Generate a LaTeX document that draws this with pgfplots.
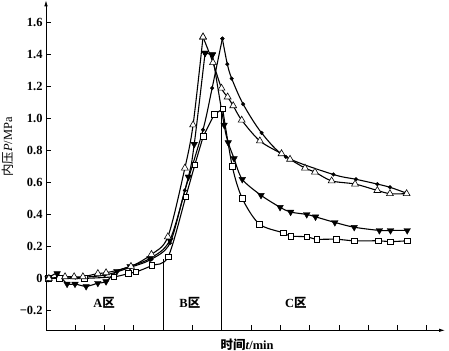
\documentclass[border=0pt]{standalone}
\usepackage{pgfplots}
\pgfplotsset{compat=1.18}
\usepackage{fontspec}
\setmainfont{Liberation Serif}
\newfontfamily\cjk{Noto Sans CJK SC}
\usetikzlibrary{arrows.meta}
\begin{document}
\begin{tikzpicture}[font=\fontsize{12}{14}\selectfont]
\begin{axis}[
 at={(0,0)}, anchor=south west,
 scale only axis, width=399bp, height=330bp,
 xmin=0, xmax=13.62, ymin=-0.325, ymax=1.74,
 axis lines=left,
 axis line style={line width=0.8pt, -{Latex[length=6pt,width=3.5pt]}},
 tick align=inside,
 xtick={1,2,3,4,5,6,7,8,9,10,11,12,13}, xticklabels={},
 ytick={-0.2,0,0.2,0.4,0.6,0.8,1.0,1.2,1.4,1.6},
 yticklabels={−0.2,0,0.2,0.4,0.6,0.8,1.0,1.2,1.4,1.6},
 yticklabel style={font=\bfseries\fontsize{12.5}{14}\selectfont},
 major tick length=5bp,
 tick style={black, line width=0.8pt},
 clip=false,
 every axis y label/.style={at={(axis description cs:-0.0965,0.556)}, rotate=90, anchor=center},
 every axis x label/.style={at={(axis description cs:0.504,-0.0445)}, anchor=center},
 ylabel={\fontsize{12.5}{14}\selectfont{\cjk 内压}\textit{P}/MPa},
 xlabel={\bfseries\fontsize{12.5}{14}\selectfont{\cjk\bfseries 时间}\textit{t}/min},
 every axis plot/.append style={black, line width=1.1pt},
]
% region separators
\addplot[black, line width=0.7pt, mark=none] coordinates {(4.0,-0.325) (4.0,0.12)};
\addplot[black, line width=0.7pt, mark=none] coordinates {(6.0,-0.325) (6.0,1.06)};

% squares
\addplot[smooth, mark=square*, mark size=2.8pt, mark options={fill=white, line width=0.6pt}] coordinates {
(0.07,0.0) (0.45,0.0) (1.3,0.0) (2.32,0.01) (2.81,0.03) (3.07,0.04) (3.61,0.08) (4.17,0.135) (4.77,0.51) (5.08,0.71) (5.37,0.89)};
\addplot[sharp plot, mark=square*, mark size=2.8pt, mark options={fill=white, line width=0.6pt}] coordinates {
(5.37,0.89) (5.74,1.025) (6.03,1.06)};
\addplot[smooth, mark=square*, mark size=2.8pt, mark options={fill=white, line width=0.6pt}] coordinates {
(6.03,1.06) (6.36,0.70) (6.70,0.50) (7.28,0.34) (8.10,0.285) (8.35,0.265) (8.90,0.26) (9.24,0.245) (9.90,0.245) (10.52,0.235) (11.34,0.235) (11.76,0.23) (12.33,0.235)};

% filled circles
\addplot[smooth, mark=*, mark size=1.9pt, mark options={line width=0.3pt}] coordinates {
(0.07,0.0) (1.0,0.005) (2.0,0.02) (2.9,0.07) (3.6,0.12) (4.23,0.22) (4.74,0.55) (5.36,0.93) (5.67,1.19) (6.02,1.50)};
\addplot[smooth, mark=*, mark size=1.9pt, mark options={line width=0.3pt}] coordinates {
(6.02,1.50) (6.19,1.34) (6.34,1.25) (6.73,1.09) (7.36,0.91) (8.19,0.76) (9.81,0.65) (10.58,0.62) (11.31,0.59) (11.74,0.57) (12.28,0.535)};

% filled down triangles
\addplot[smooth, mark=triangle*, mark size=3.8pt, mark options={rotate=180, fill=black, line width=0.4pt}] coordinates {
(0.07,0.0) (0.38,0.03) (0.72,-0.035) (0.99,-0.035) (1.37,-0.05) (1.77,-0.03) (2.05,-0.02) (2.42,0.045) (2.87,0.075) (3.55,0.125) (4.23,0.24) (4.86,0.635) (5.06,0.84) (5.43,1.41)};
\addplot[sharp plot, mark=triangle*, mark size=3.8pt, mark options={rotate=180, fill=black, line width=0.4pt}] coordinates {
(5.43,1.41) (5.68,1.40)};
\addplot[smooth, mark=triangle*, mark size=3.8pt, mark options={rotate=180, fill=black, line width=0.4pt}] coordinates {
(5.68,1.40) (6.08,0.96) (6.22,0.85) (6.42,0.75) (6.70,0.62) (7.34,0.52) (7.99,0.445) (8.35,0.415) (8.90,0.40) (9.20,0.385) (9.86,0.35) (10.52,0.32) (11.38,0.30) (11.76,0.30) (12.33,0.30)};

% open triangles
\addplot[smooth, mark=triangle*, mark size=4pt, mark options={fill=white, line width=0.6pt}] coordinates {
(0.1,0.0) (0.65,0.01) (0.96,0.01) (1.26,0.01) (1.77,0.03) (2.05,0.035) (2.9,0.075) (3.6,0.15) (4.16,0.26) (4.74,0.69) (5.02,0.96) (5.36,1.51)};
\addplot[smooth, mark=triangle*, mark size=4pt, mark options={fill=white, line width=0.6pt}] coordinates {
(5.36,1.51) (5.70,1.35) (5.99,1.19) (6.20,1.135) (6.39,1.08) (6.68,0.99) (7.30,0.86) (8.04,0.78) (8.33,0.745) (8.84,0.69) (9.18,0.665) (9.75,0.61) (10.55,0.59) (11.31,0.55) (11.74,0.53) (12.31,0.53)};

\node[font=\bfseries\fontsize{12.5}{14}\selectfont] at (axis cs:1.98,-0.154) {A{\cjk\bfseries 区}};
\node[font=\bfseries\fontsize{12.5}{14}\selectfont] at (axis cs:4.91,-0.154) {B{\cjk\bfseries 区}};
\node[font=\bfseries\fontsize{12.5}{14}\selectfont] at (axis cs:8.53,-0.150) {C{\cjk\bfseries 区}};
\end{axis}
\pgfresetboundingbox
\path[use as bounding box] (-46bp,-20.7bp) rectangle (403bp,330.3bp);
\end{tikzpicture}
\end{document}
